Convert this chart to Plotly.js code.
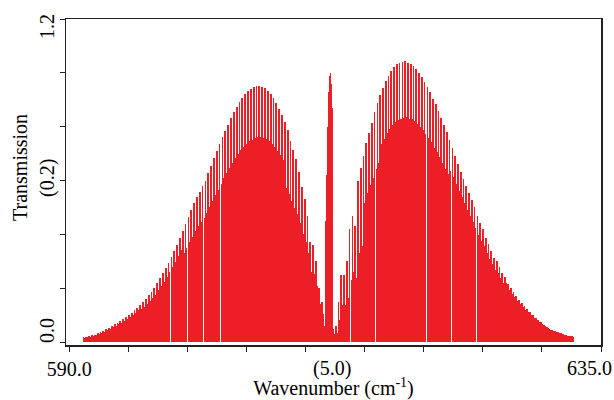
<!DOCTYPE html>
<html>
<head>
<meta charset="utf-8">
<script src="https://cdn.plot.ly/plotly-3.0.1.min.js"></script>
<style>html,body{margin:0;padding:0;background:#fff;}#chart{width:614px;height:400px;}</style>
</head>
<body>
<div id="chart"></div>
<script>
// P branch: strong lines start / spacing (cm-1) and peak transmissions
const pStart = 591.2, pStep = 0.24;
const pStrong = [0.017,0.019,0.022,0.025,0.028,0.032,0.037,0.042,0.048,0.054,
  0.060,0.066,0.072,0.078,0.084,0.092,0.100,0.108,0.118,0.128,
  0.139,0.149,0.161,0.173,0.186,0.200,0.218,0.237,0.255,0.275,
  0.295,0.316,0.338,0.362,0.387,0.412,0.437,0.464,0.490,0.516,
  0.537,0.558,0.578,0.600,0.629,0.655,0.683,0.708,0.735,0.760,
  0.784,0.807,0.832,0.853,0.874,0.892,0.908,0.920,0.931,0.940,
  0.946,0.951,0.952,0.949,0.942,0.932,0.921,0.906,0.889,0.867,
  0.844,0.819,0.787,0.748,0.712,0.680,0.630,0.575,0.530,0.470,
  0.370,0.360,0.300,0.200,0.150];
// P branch: weaker interleaved lines (between strong lines)
const pWeakStart = 591.32;
const pWeak = [0.016,0.017,0.020,0.023,0.026,0.029,0.034,0.039,0.044,0.050,
  0.055,0.061,0.066,0.072,0.077,0.085,0.092,0.099,0.109,0.118,
  0.122,0.131,0.142,0.152,0.164,0.176,0.192,0.209,0.224,0.242,
  0.260,0.278,0.297,0.319,0.341,0.330,0.350,0.371,0.392,0.413,
  0.430,0.446,0.462,0.480,0.503,0.524,0.546,0.566,0.588,0.608,
  0.627,0.646,0.666,0.682,0.699,0.714,0.726,0.736,0.745,0.752,
  0.757,0.761,0.762,0.759,0.754,0.746,0.737,0.725,0.711,0.694,
  0.675,0.573,0.551,0.524,0.498,0.476,0.441,0.403,0.371,0.329,
  0.259,0.252,0.210,0.140,0.105];
// Q branch
const qWave = [611.62,611.70,611.78,611.86,611.94,612.02,612.10,612.18,612.26,612.34,612.42];
const qTrans = [0.06,0.45,0.62,0.80,0.93,0.99,1.00,0.96,0.87,0.05,0.03];
// R branch: strong lines
const rStart = 612.55, rStep = 0.235;
const rStrong = [0.060,0.150,0.250,0.250,0.300,0.420,0.470,0.430,0.600,0.645,
  0.690,0.740,0.776,0.814,0.855,0.887,0.918,0.944,0.969,0.990,
  1.007,1.021,1.031,1.036,1.042,1.045,1.038,1.034,1.025,1.014,
  0.999,0.984,0.967,0.947,0.928,0.903,0.883,0.857,0.831,0.805,
  0.779,0.749,0.720,0.690,0.660,0.632,0.606,0.579,0.552,0.526,
  0.500,0.468,0.441,0.419,0.388,0.365,0.340,0.314,0.300,0.280,
  0.258,0.242,0.215,0.200,0.185,0.170,0.156,0.144,0.133,0.122,
  0.110,0.100,0.091,0.082,0.073,0.065,0.057,0.050,0.044,0.040,
  0.036,0.033,0.030,0.026,0.024,0.022];
// R branch: weaker interleaved lines
const rWeakStart = 612.6675;
const rWeak = [0.033,0.083,0.138,0.138,0.165,0.231,0.259,0.237,0.330,0.355,
  0.518,0.555,0.582,0.611,0.641,0.665,0.734,0.755,0.775,0.792,
  0.806,0.817,0.825,0.829,0.834,0.836,0.830,0.827,0.820,0.811,
  0.799,0.787,0.774,0.758,0.742,0.722,0.706,0.686,0.665,0.644,
  0.623,0.637,0.612,0.587,0.561,0.537,0.515,0.492,0.469,0.447,
  0.425,0.398,0.375,0.356,0.330,0.310,0.289,0.267,0.255,0.238,
  0.219,0.218,0.194,0.180,0.167,0.153,0.140,0.130,0.120,0.110,
  0.099,0.090,0.082,0.074,0.066,0.059,0.051,0.045,0.040,0.036,
  0.032,0.030,0.027,0.023,0.022,0.020];

const xTicks = [590,595,600,605,610,615,620,625,630,635];
const xLabelVals = [590];
const xLabelText = ['590.0'];
const yTicks = [0,0.2,0.4,0.6,0.8,1.0,1.2];

const RED = '#ED1F26';
const FONT = 'Liberation Serif, Times New Roman, serif';
const TXT = {family:FONT, size:20, color:'#000'};

const bar = (extra) => Object.assign({type:'bar', marker:{color:RED, line:{width:0}}, hoverinfo:'skip', showlegend:false}, extra);

const data = [
  bar({x0:pWeakStart, dx:pStep, y:pWeak, width:0.085}),
  bar({x0:pStart, dx:pStep, y:pStrong, width:0.15}),
  bar({x:qWave, y:qTrans, width:0.09}),
  bar({x0:rWeakStart, dx:rStep, y:rWeak, width:0.085}),
  bar({x0:rStart, dx:rStep, y:rStrong, width:0.145})
];

const layout = {
  width:614, height:400,
  margin:{l:66, r:13, t:19, b:55, pad:0},
  paper_bgcolor:'#fff', plot_bgcolor:'#fff',
  barmode:'overlay', bargap:0,
  font:TXT,
  xaxis:{
    range:[589.72,635], tickmode:'array', tickvals:xLabelVals, ticktext:xLabelText,
    ticks:'outside', ticklen:5, tickwidth:1, tickcolor:'#222',
    minor:{tickmode:'array', tickvals:xTicks, ticks:'outside', ticklen:5, tickwidth:1, tickcolor:'#222', showgrid:false},
    showline:true, linecolor:'#222', linewidth:1.5, mirror:true,
    showgrid:false, zeroline:false,
    tickfont:TXT,
    title:{text:'Wavenumber (cm<sup>-1</sup>)', font:TXT, standoff:8}
  },
  yaxis:{
    range:[-0.011,1.2], tickmode:'array', tickvals:yTicks, showticklabels:false,
    ticks:'outside', ticklen:5, tickwidth:1, tickcolor:'#222',
    showline:true, linecolor:'#222', linewidth:1.5, mirror:true,
    showgrid:false, zeroline:false
  },
  annotations:[
    {text:'Transmission', xref:'paper', yref:'paper', x:0, y:0.5, xanchor:'center', yanchor:'middle', xshift:-46, yshift:14, textangle:-90, showarrow:false, font:TXT},
    {text:'(0.2)', xref:'paper', yref:'paper', x:0, y:0.5, xanchor:'center', yanchor:'middle', xshift:-19, yshift:4, textangle:-90, showarrow:false, font:TXT},
    {text:'1.2', xref:'paper', yref:'paper', x:0, y:1, xanchor:'center', yanchor:'middle', xshift:-19, yshift:-8, textangle:-90, showarrow:false, font:TXT},
    {text:'0.0', xref:'paper', yref:'paper', x:0, y:0, xanchor:'center', yanchor:'middle', xshift:-19, yshift:14, textangle:-90, showarrow:false, font:TXT},
    {text:'(5.0)', xref:'paper', yref:'paper', x:0.5, y:0, xanchor:'center', yanchor:'top', xshift:-2, yshift:-10, showarrow:false, font:TXT},
    {text:'635.0', xref:'paper', yref:'paper', x:1, y:0, xanchor:'right', yanchor:'top', xshift:13, yshift:-10, showarrow:false, font:TXT}
  ]
};

Plotly.newPlot('chart', data, layout, {staticPlot:true, displayModeBar:false});
</script>
</body>
</html>
